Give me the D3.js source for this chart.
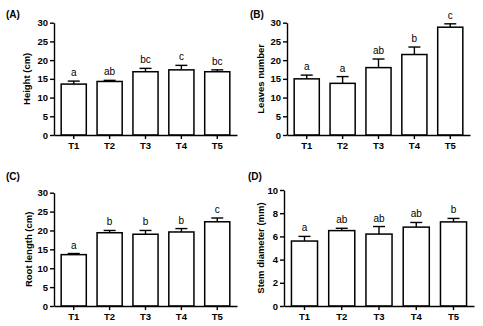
<!DOCTYPE html>
<html>
<head>
<meta charset="utf-8">
<script src="https://cdn.jsdelivr.net/npm/d3@7"></script>
<style>
    body { margin: 0; background: #fff; }
    svg { font-family: "Liberation Sans", Arial, sans-serif; }
    .axis path, .axis line { stroke: #000; stroke-width: 1.4; }
    .axis text { font-size: 9.5px; font-weight: bold; fill: #000; }
</style>
</head>
<body>
<svg id="chart" width="483" height="326"></svg>
<script>
// treatments
let treatments = ["T1", "T2", "T3", "T4", "T5"];

// (A) height
let heightMean = [13.6, 14.3, 16.9, 17.4, 16.9];
let heightErr = [0.8, 0.3, 0.9, 1.2, 0.5];
let heightSig = ["a", "ab", "bc", "c", "bc"];

// (B) leaves
let leavesMean = [15.0, 13.8, 18.0, 21.5, 28.8];
let leavesErr = [1.0, 1.8, 2.3, 2.0, 0.9];
let leavesSig = ["a", "a", "ab", "b", "c"];

// (C) root length
let rootMean = [13.6, 19.4, 19.0, 19.6, 22.3];
let rootErr = [0.3, 0.6, 1.0, 0.9, 1.0];
let rootSig = ["a", "b", "b", "b", "c"];

// (D) stem diameter
let stemMean = [5.6, 6.5, 6.2, 6.8, 7.25];
let stemErr = [0.4, 0.2, 0.65, 0.4, 0.3];
let stemSig = ["a", "ab", "ab", "ab", "b"];

let yTicks30 = [0, 5, 10, 15, 20, 25, 30];
let yTicks10 = [0, 2, 4, 6, 8, 10];

let panels = [
    {tag: "(A)", title: "Height (cm)", mean: heightMean, err: heightErr, sig: heightSig, ticks: yTicks30,
        x0: 54, x1: 237, y0: 135, y1: 22.7, titleX: 27, tagX: 6, tagY: 18},
    {tag: "(B)", title: "Leaves number", mean: leavesMean, err: leavesErr, sig: leavesSig, ticks: yTicks30,
        x0: 287, x1: 470, y0: 135, y1: 22.7, titleX: 261, tagX: 250, tagY: 18},
    {tag: "(C)", title: "Root length (cm)", mean: rootMean, err: rootErr, sig: rootSig, ticks: yTicks30,
        x0: 54, x1: 237, y0: 306, y1: 192.7, titleX: 29, tagX: 6, tagY: 180},
    {tag: "(D)", title: "Stem diameter (mm)", mean: stemMean, err: stemErr, sig: stemSig, ticks: yTicks10,
        x0: 284, x1: 474, y0: 306, y1: 190, titleX: 261, tagX: 248, tagY: 180}
];

let svg = d3.select("#chart");

panels.forEach(function (p) {
    let g = svg.append("g");

    let xScale = d3.scaleBand()
        .domain(treatments)
        .range([p.x0, p.x1])
        .paddingInner(0.3)
        .paddingOuter(0.2);

    let yScale = d3.scaleLinear()
        .domain([0, d3.max(p.ticks)])
        .range([p.y0, p.y1]);

    let data = treatments.map(function (t, i) {
        return {t: t, m: p.mean[i], e: p.err[i], s: p.sig[i]};
    });

    // bars
    g.selectAll("rect")
        .data(data)
        .enter()
        .append("rect")
        .attr("x", d => xScale(d.t))
        .attr("width", xScale.bandwidth())
        .attr("y", d => yScale(d.m))
        .attr("height", d => yScale(0) - yScale(d.m))
        .attr("fill", "#fff")
        .attr("stroke", "#000")
        .attr("stroke-width", 1.5);

    // upper error bars
    let cap = 6;
    let eb = g.selectAll(".eb")
        .data(data)
        .enter()
        .append("g")
        .attr("class", "eb")
        .attr("stroke", "#000")
        .attr("stroke-width", 1.4);
    eb.append("line")
        .attr("x1", d => xScale(d.t) + xScale.bandwidth() / 2)
        .attr("x2", d => xScale(d.t) + xScale.bandwidth() / 2)
        .attr("y1", d => yScale(d.m))
        .attr("y2", d => yScale(d.m + d.e));
    eb.append("line")
        .attr("x1", d => xScale(d.t) + xScale.bandwidth() / 2 - cap)
        .attr("x2", d => xScale(d.t) + xScale.bandwidth() / 2 + cap)
        .attr("y1", d => yScale(d.m + d.e))
        .attr("y2", d => yScale(d.m + d.e));

    // significance letters
    g.selectAll(".sig")
        .data(data)
        .enter()
        .append("text")
        .attr("class", "sig")
        .attr("x", d => xScale(d.t) + xScale.bandwidth() / 2)
        .attr("y", d => yScale(d.m + d.e) - 5)
        .attr("text-anchor", "middle")
        .style("font-size", "10px")
        .text(d => d.s);

    // axes
    g.append("g")
        .attr("class", "axis")
        .attr("transform", "translate(" + p.x0 + ",0)")
        .call(d3.axisLeft(yScale).tickValues(p.ticks).tickSize(4).tickSizeOuter(0).tickPadding(2));

    g.append("g")
        .attr("class", "axis")
        .attr("transform", "translate(0," + p.y0 + ")")
        .call(d3.axisBottom(xScale).tickSize(4).tickSizeOuter(0).tickPadding(3));

    // y title
    g.append("text")
        .attr("transform", "translate(" + p.titleX + "," + ((p.y0 + p.y1) / 2) + ") rotate(-90)")
        .attr("text-anchor", "middle")
        .attr("dy", "0.35em")
        .style("font-size", "9.5px")
        .style("font-weight", "bold")
        .text(p.title);

    // panel tag
    g.append("text")
        .attr("x", p.tagX)
        .attr("y", p.tagY)
        .style("font-size", "10px")
        .style("font-weight", "bold")
        .text(p.tag);
});
</script>
</body>
</html>
